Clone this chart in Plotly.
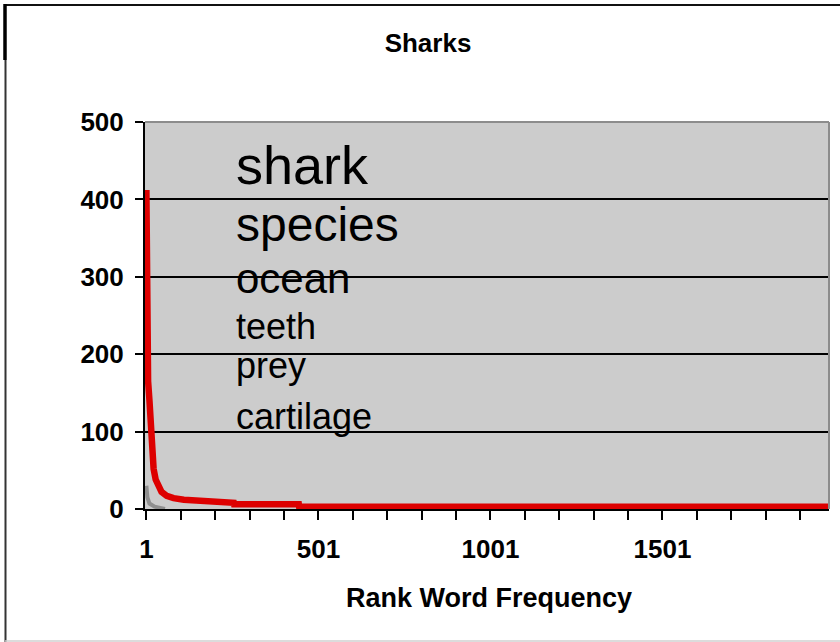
import plotly.graph_objects as go

# Word frequency by rank (breakpoints of the rank/frequency curve)
ranks = [1, 2, 6, 10, 14, 18, 22, 28, 35, 45, 60, 80, 110, 150, 190, 255, 256, 444, 445, 1984]
freqs = [412, 170, 165, 140, 105, 75, 52, 38, 29, 22, 17, 14, 12, 11, 10, 8, 6, 6, 3, 3]

# Secondary (grey) series near the origin
ranks_b = [1, 4, 10, 25, 55]
freqs_b = [30, 15, 7, 3, 0]

# Top words drawn inside the plot, largest first
words = ["shark", "species", "ocean", "teeth", "prey", "cartilage"]
word_sizes = [54, 48, 42, 36, 36, 36]
word_y = [445, 367, 298, 236, 185, 120]

x_tickvals = list(range(1, 2000, 100))
x_ticktext = [str(v) if (v - 1) % 500 == 0 else "" for v in x_tickvals]
y_tickvals = [0, 100, 200, 300, 400, 500]

FONT = "Liberation Sans, Arial, sans-serif"
W, H = 840, 642
L, R, T, B = 145, 11, 122, 133
PW, PH = W - L - R, H - T - B


def px_x(p):
    return (p - L) / PW


def px_y(p):
    return (H - B - p) / PH


fig = go.Figure()
fig.add_trace(go.Scatter(x=ranks_b, y=freqs_b, mode="lines",
                         line=dict(color="#8f8f8f", width=4), showlegend=False))
fig.add_trace(go.Scatter(x=ranks, y=freqs, mode="lines",
                         line=dict(color="#dd0000", width=6.5), showlegend=False))

for w, s, yv in zip(words, word_sizes, word_y):
    fig.add_annotation(x=px_x(234), y=yv, xref="paper", yref="y", text=w,
                       showarrow=False, xanchor="left", yanchor="middle",
                       font=dict(family=FONT, size=s, color="black"))

fig.add_annotation(x=px_x(489), y=px_y(598), xref="paper", yref="paper",
                   text="<b>Rank Word Frequency</b>", showarrow=False,
                   xanchor="center", yanchor="middle",
                   font=dict(family=FONT, size=27, color="black"))

shapes = [
    # plot frame: grey top and right edges
    dict(type="line", xref="paper", yref="paper", x0=0, x1=1, y0=1, y1=1,
         line=dict(color="#8c8c8c", width=2), layer="above"),
    dict(type="line", xref="paper", yref="paper", x0=1, x1=1, y0=0, y1=1,
         line=dict(color="#8c8c8c", width=2), layer="above"),
    # outer figure border
    dict(type="line", xref="paper", yref="paper", x0=px_x(4), x1=px_x(840),
         y0=px_y(5), y1=px_y(5), line=dict(color="#111111", width=2)),
    dict(type="line", xref="paper", yref="paper", x0=px_x(5), x1=px_x(5),
         y0=px_y(4), y1=px_y(60), line=dict(color="#000000", width=3.5)),
    dict(type="line", xref="paper", yref="paper", x0=px_x(5.5), x1=px_x(5.5),
         y0=px_y(60), y1=px_y(642), line=dict(color="#333333", width=2)),
    dict(type="line", xref="paper", yref="paper", x0=px_x(5), x1=px_x(840),
         y0=px_y(641), y1=px_y(641), line=dict(color="#d0d0d0", width=1.5)),
]

fig.update_layout(
    width=W, height=H,
    margin=dict(l=L, r=R, t=T, b=B, pad=0),
    paper_bgcolor="white",
    plot_bgcolor="#cccccc",
    showlegend=False,
    shapes=shapes,
    title=dict(text="<b>Sharks</b>", x=428 / W, xref="container", xanchor="center",
               y=1 - 43 / H, yref="container", yanchor="middle",
               font=dict(family=FONT, size=26, color="black")),
)

fig.update_xaxes(
    range=[-3, 1985], tickmode="array", tickvals=x_tickvals, ticktext=x_ticktext,
    ticks="outside", ticklen=9, tickwidth=2, tickcolor="black",
    showline=True, linecolor="black", linewidth=2, showgrid=False, zeroline=False,
    tickfont=dict(family=FONT, size=26, color="black", weight="bold"),
    ticklabelstandoff=7,
)
fig.update_yaxes(
    range=[0, 500], tickmode="array", tickvals=y_tickvals,
    ticks="outside", ticklen=8, tickwidth=2, tickcolor="black",
    showline=True, linecolor="black", linewidth=2,
    showgrid=True, gridcolor="black", gridwidth=1.5, zeroline=False,
    tickfont=dict(family=FONT, size=26, color="black", weight="bold"),
    ticklabelstandoff=6,
)

fig.write_html("out.html")
